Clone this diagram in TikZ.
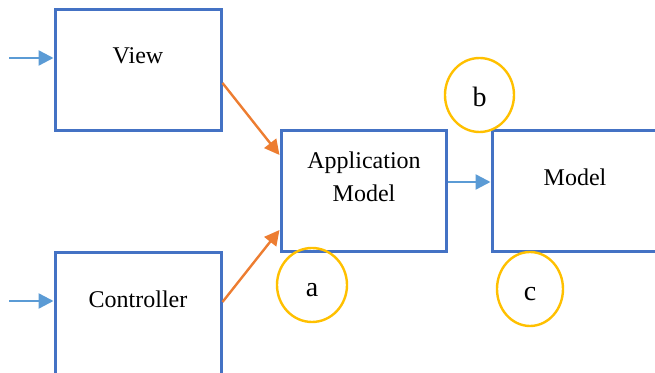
\documentclass[tikz,border=0pt]{standalone}
\usepackage{fontspec}
\setmainfont{Liberation Serif}
\usetikzlibrary{arrows.meta,calc,shapes.geometric}
\definecolor{boxblue}{HTML}{4472C4}
\definecolor{arrowblue}{HTML}{5B9BD5}
\definecolor{arroworange}{HTML}{ED7D31}
\definecolor{ringgold}{HTML}{FFC000}
\tikzset{
  block/.style={draw=boxblue, line width=1.5pt, rectangle, inner sep=0pt},
  txt/.style={anchor=base, inner sep=0pt, font=\fontsize{12}{16}\selectfont},
  flowin/.style={draw=arrowblue, line width=1.2pt, -{Triangle[length=7.5pt,width=7.5pt]}},
  feed/.style={draw=arroworange, line width=1.2pt, -{Triangle[length=7.5pt,width=7.5pt]}},
  ring/.style={draw=ringgold, line width=1.2pt, ellipse, inner sep=0pt,
    text height=11.7pt, text depth=0pt, font=\fontsize{14}{16}\selectfont}
}
\begin{document}
\begin{tikzpicture}[x=0.5pt, y=-0.5pt]
  \useasboundingbox (0,0) rectangle (655,373);
  \clip (0,0) rectangle (655,373);

  % boxes
  \node[block, minimum width=83pt, minimum height=60.5pt] (view) at (138,70.5) {};
  \node[block, minimum width=83pt, minimum height=80pt] (ctrl) at (138,333) {};
  \node[block, minimum width=82.5pt, minimum height=60.5pt] (app) at (363.5,191.5) {};
  \node[block, minimum width=85pt, minimum height=60.5pt] (model) at (577,191.5) {};

  % box texts
  \node[txt] (viewtxt) at (138,64) {View};
  \node[txt] (ctrltxt) at (138,307.5) {Controller};
  \node[txt] (apptxt1) at (364,169) {Application};
  \node[txt] (apptxt2) at (364,202) {Model};
  \node[txt] (modeltxt) at (575,186) {Model};

  % labelled rings
  \node[ring, minimum width=35pt, minimum height=37pt] (ra) at (312,285) {a};
  \node[ring, minimum width=34.5pt, minimum height=37pt] (rb) at (479.5,95) {b};
  \node[ring, minimum width=33pt, minimum height=37pt] (rc) at (530,289) {c};

  % incoming arrows
  \coordinate (vin) at (9,58);
  \coordinate (cin) at (9,301);
  \draw[flowin] (vin) -- (vin -| view.west);
  \draw[flowin] (cin) -- (cin -| ctrl.west);

  % view / controller to application model
  \draw[feed] ($(view.east)+(0,12.5)$) -- ($(app.west)+(0,-36.5)$);
  \draw[feed] ($(ctrl.east |- cin)+(0,1)$) -- ($(app.west)+(0,38.5)$);

  % application model to model
  \draw[flowin] ($(app.east)+(0,-9.5)$) -- ($(model.west)+(0,-9.5)$);
\end{tikzpicture}
\end{document}
